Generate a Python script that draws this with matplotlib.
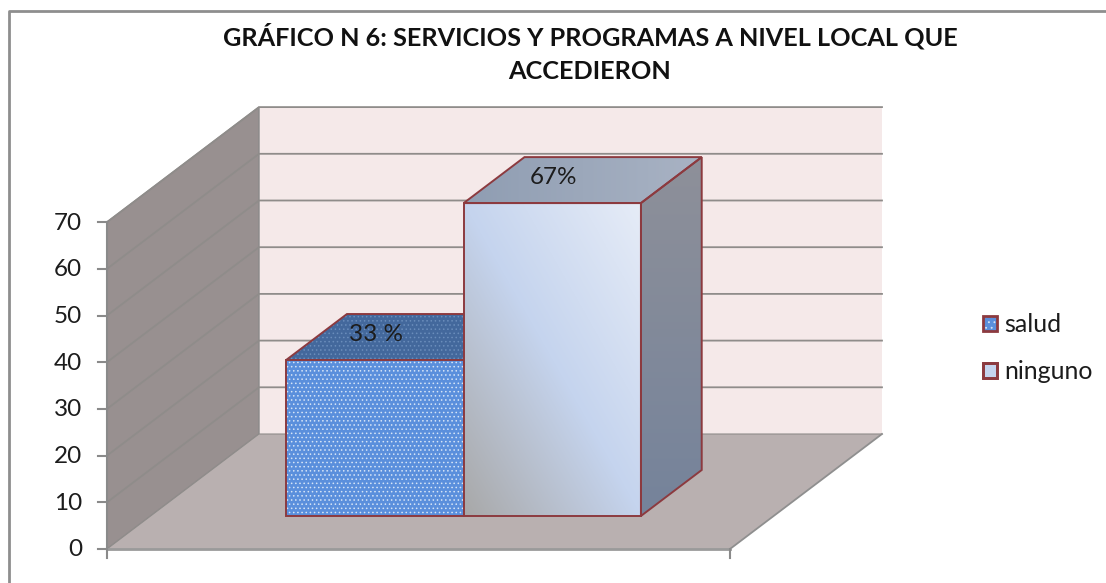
import numpy as np
import matplotlib
matplotlib.use('Agg')
import matplotlib.pyplot as plt
from matplotlib.colors import LinearSegmentedColormap
from matplotlib.patches import Patch, Polygon

title = "GRÁFICO N 6: SERVICIOS Y PROGRAMAS A NIVEL LOCAL QUE\nACCEDIERON"
categories = ['salud', 'ninguno']
values = [33.4, 67]
value_labels = ['33 %', '67%']
y_ticks = [0, 10, 20, 30, 40, 50, 60, 70]

plt.rcParams['font.family'] = ['Lato', 'DejaVu Sans']
plt.rcParams['hatch.linewidth'] = 0.6

# one x unit is one category, one y unit is one percent
PX_X = 311.5
PX_Y = 4.67
DX = 152 / PX_X   # how far the depth axis runs right
DY = 115 / PX_Y   # how far the depth axis runs up
RED = '#8c3a3f'


def proj(x, v, d=0.0):
    return (x + d * DX, v + d * DY)


def gradient_poly(ax, pts, colors, angle=0.0, lw=1.4):
    # gradient image clipped to a polygon
    pts = np.array(pts)
    n = 200
    xx, yy = np.meshgrid(np.linspace(0, 1, n), np.linspace(0, 1, n))
    t = xx * np.cos(angle) + yy * np.sin(angle)
    cmap = LinearSegmentedColormap.from_list('g', colors)
    extent = [pts[:, 0].min(), pts[:, 0].max(), pts[:, 1].min(), pts[:, 1].max()]
    im = ax.imshow(t, extent=extent, origin='lower', cmap=cmap, aspect='auto', zorder=5)
    poly = Polygon(pts, closed=True, fc='none', ec=RED, lw=lw, zorder=6)
    ax.add_patch(poly)
    im.set_clip_path(poly)


fig = plt.figure(figsize=(11.06, 5.83), dpi=100)
ax = fig.add_axes([0, 0, 1, 1])
xlim = (-107 / PX_X, (1106 - 107) / PX_X)
ylim = (-(583 - 549) / PX_Y, 549 / PX_Y)
ax.set_xlim(xlim)
ax.set_ylim(ylim)
ax.axis('off')

# chart border, no line on the right or bottom
ax.plot([-98 / PX_X, -98 / PX_X, 999 / PX_X], [-34 / PX_Y, 538 / PX_Y, 538 / PX_Y],
        color='#8e8e8e', lw=2)

top = y_ticks[-1]
# back wall, side wall and floor
ax.add_patch(Polygon([proj(0, 0, 1), proj(2, 0, 1), proj(2, top, 1), proj(0, top, 1)],
                     fc='#f5e9e9', ec='none'))
ax.add_patch(Polygon([proj(0, 0, 0), proj(0, 0, 1), proj(0, top, 1), proj(0, top, 0)],
                     fc='#989090', ec='#8a8a8a', lw=1))
ax.add_patch(Polygon([proj(0, 0, 0), proj(2, 0, 0), proj(2, 0, 1), proj(0, 0, 1)],
                     fc='#b9b0b0', ec='none'))

# gridlines run along the side wall and across the back wall
for t in y_ticks:
    xs, ys = zip(proj(0, t, 0), proj(0, t, 1), proj(2, t, 1))
    ax.plot(xs, ys, color='#8f8c8a', lw=1.3 if t else 0.8, zorder=2)
xs, ys = zip(proj(2, 0, 0), proj(2, 0, 1))
ax.plot(xs, ys, color='#8f8f8f', lw=1.3, zorder=2)

# axes and tick marks
ax.plot([0, 0], [0, top], color='#8a8a8a', lw=1.5, zorder=3)
ax.plot([0, 2], [0, 0], color='#9a9a9a', lw=2, zorder=3)
for t in y_ticks:
    ax.plot([-9 / PX_X, 0], [t, t], color='#8a8a8a', lw=1.5, zorder=3)
    ax.text(-25 / PX_X, t - 1 / PX_Y, str(t), ha='right', va='center', fontsize=17.5, color='#1c1c1c')
for x in [0, 2]:
    ax.plot([x, x], [0, -9 / PX_Y], color='#8a8a8a', lw=1.5, zorder=3)

# bars
lefts = [0.435, 1.005]
rights = [1.005, 1.574]
d0, d1 = 0.287, 0.687

# salud, flat blue with a white dot pattern
l, r, v = lefts[0], rights[0], values[0]
ax.add_patch(Polygon([proj(l, v, d0), proj(r, v, d0), proj(r, v, d1), proj(l, v, d1)],
                     fc='#43689c', ec='#6a8dbb', hatch='....', lw=0, zorder=4))
ax.add_patch(Polygon([proj(l, v, d0), proj(r, v, d0), proj(r, v, d1), proj(l, v, d1)],
                     fc='none', ec=RED, lw=1.4, zorder=4))
ax.add_patch(Polygon([proj(l, 0, d0), proj(r, 0, d0), proj(r, v, d0), proj(l, v, d0)],
                     fc='#5a8fdc', ec='#d5e4f6', hatch='....', lw=0, zorder=4))
ax.add_patch(Polygon([proj(l, 0, d0), proj(r, 0, d0), proj(r, v, d0), proj(l, v, d0)],
                     fc='none', ec=RED, lw=1.4, zorder=4))

# ninguno, gradient faces
l, r, v = lefts[1], rights[1], values[1]
gradient_poly(ax, [proj(l, v, d0), proj(r, v, d0), proj(r, v, d1), proj(l, v, d1)],
              ['#8f9db2', '#a9b3c4'])
gradient_poly(ax, [proj(r, 0, d0), proj(r, 0, d1), proj(r, v, d1), proj(r, v, d0)],
              ['#75839b', '#8e9099'], angle=np.pi / 2)
gradient_poly(ax, [proj(l, 0, d0), proj(r, 0, d0), proj(r, v, d0), proj(l, v, d0)],
              ['#a8a8a8', '#c5d4ee', '#e6ecf7'], angle=np.pi / 4)

# value labels sit on the top faces
for l, r, v, lab in zip(lefts, rights, values, value_labels):
    x, y = proj((l + r) / 2, v, (d0 + d1) / 2)
    ax.text(x - 29 / PX_X, y + 3 / PX_Y, lab, ha='center', va='center', fontsize=17.5,
            color='#1c1c1c', zorder=7)

ax.text(483 / PX_X, (549 - 53) / PX_Y, title, ha='center', va='center',
        fontsize=18.2, fontweight='bold', color='#111111', linespacing=1.55)

handles = [Patch(fc='#5a8fdc', ec='#d5e4f6', hatch='...', lw=0),
           Patch(fc='#c5d4ee', ec=RED, lw=2)]
leg = ax.legend(handles, categories, loc='center left', bbox_to_anchor=(983 / 1106, 1 - 348 / 583),
                frameon=False, fontsize=18, handlelength=0.56, handleheight=0.56, handletextpad=0.3,
                labelspacing=0.96, labelcolor='#1c1c1c', borderpad=0, borderaxespad=0)

# legend keys: red outline on the dotted one, green-to-blue fade on the other
fig.canvas.draw()
inv = ax.transData.inverted()
for patch, colors in zip(leg.get_patches(), [None, ['#c5d4ee', '#c5d4ee', '#6f8a6a']]):
    bb = patch.get_window_extent().transformed(inv)
    corners = [(bb.x0, bb.y0), (bb.x1, bb.y0), (bb.x1, bb.y1), (bb.x0, bb.y1)]
    if colors:
        gradient_poly(ax, corners, colors, angle=np.pi / 2, lw=2)
    else:
        ax.add_patch(Polygon(corners, fc='none', ec=RED, lw=2, zorder=6))
ax.set_xlim(xlim)
ax.set_ylim(ylim)
ax.set_aspect('auto')

fig.savefig('out.png', dpi=100)
